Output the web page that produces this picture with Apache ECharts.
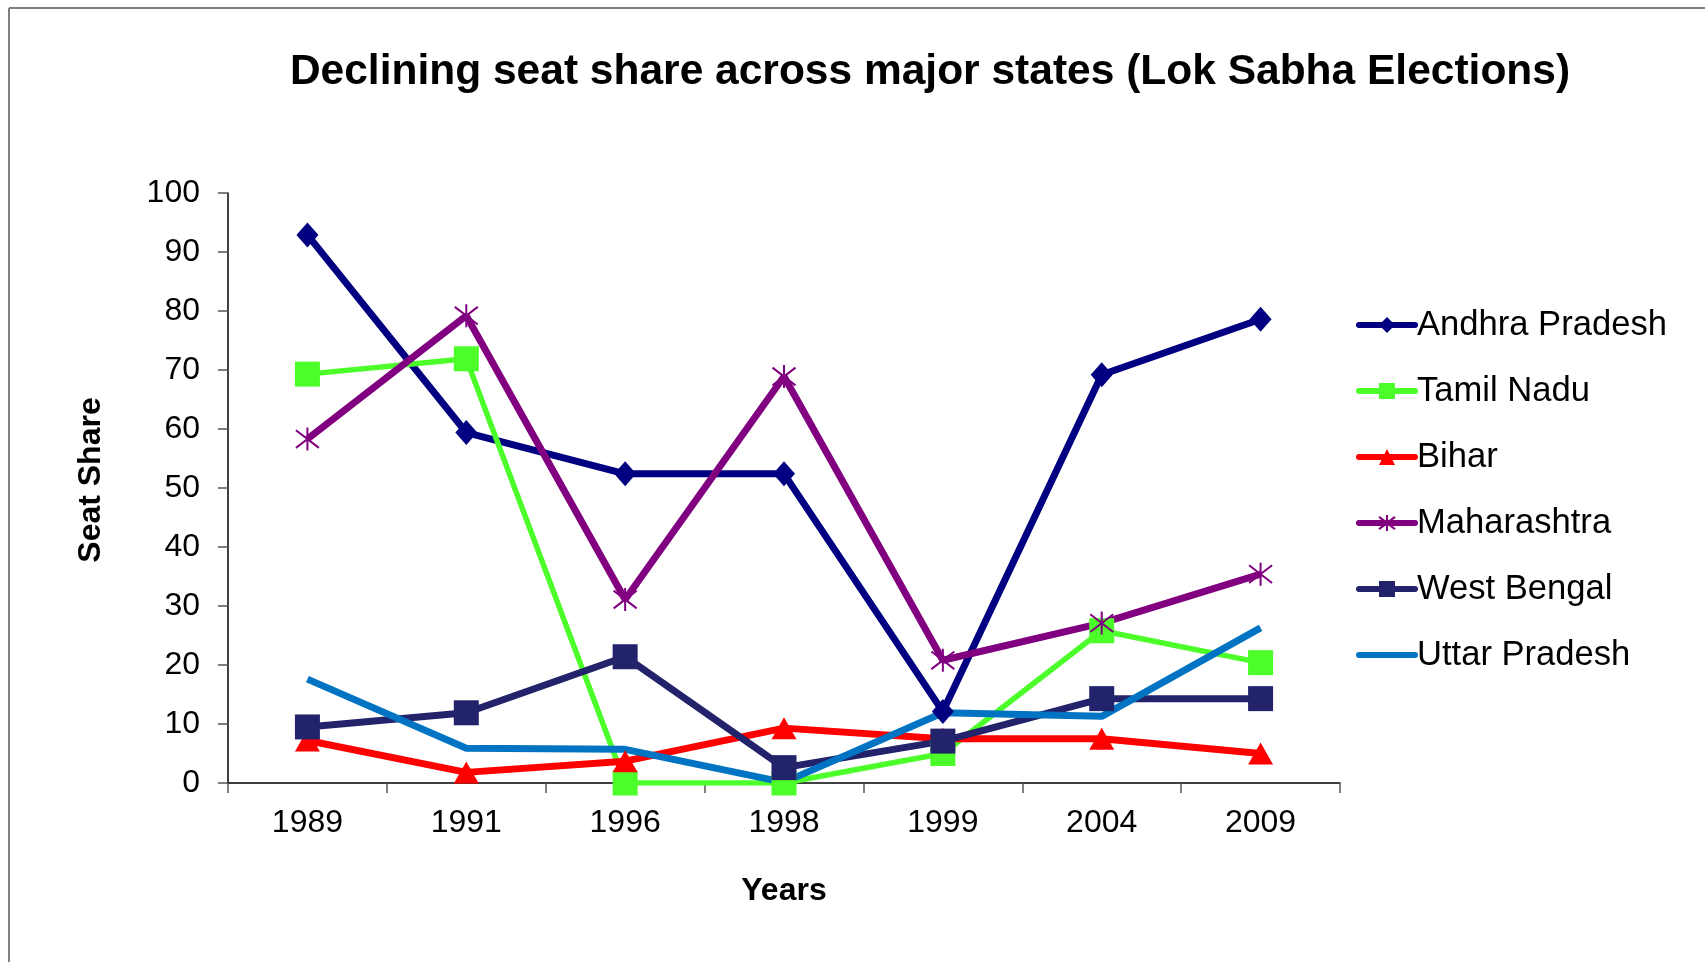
<!DOCTYPE html>
<html>
<head>
<meta charset="utf-8">
<title>Declining seat share across major states</title>
<script src="https://cdn.jsdelivr.net/npm/echarts@6/dist/echarts.min.js"></script>
<style>
  html, body { margin: 0; padding: 0; background: #fff; }
  .charts { width: 1705px; height: 962px; }
</style>
</head>
<body>
<div class="charts"></div>
<script>
'use strict';

const years = ['1989', '1991', '1996', '1998', '1999', '2004', '2009'];

const andhraPradesh = [92.9, 59.4, 52.4, 52.4, 12.1, 69.2, 78.6];
const tamilNadu = [69.3, 71.9, 0, 0, 5.0, 25.8, 20.4];
const bihar = [7.2, 1.8, 3.7, 9.3, 7.5, 7.5, 5.0];
const maharashtra = [58.3, 79.2, 31.1, 68.9, 20.8, 27.1, 35.4];
const westBengal = [9.5, 11.9, 21.4, 2.6, 7.1, 14.3, 14.3];
const uttarPradesh = [17.6, 5.9, 5.7, 0.1, 11.9, 11.3, 26.3];

const yTicks = { min: 0, max: 100, step: 10 };

const FONT = 'Liberation Sans, Arial, sans-serif';
const ASTERISK = 'path://M0,0L10,10M10,0L0,10M5,-1.5L5,11.5';

const myChart = echarts.init(document.querySelector('.charts'));

const makeSeries = (name, data, color, symbol, symbolSize, width) => ({
  name,
  type: 'line',
  data,
  symbol,
  symbolSize,
  showSymbol: symbol !== 'none',
  lineStyle: { color, width },
  itemStyle: symbol === ASTERISK
    ? { color: 'transparent', borderColor: color, borderWidth: 2 }
    : { color, borderColor: color, borderWidth: 0 },
  emphasis: { disabled: true },
  animation: false,
});

const option = {
  backgroundColor: '#ffffff',
  title: {
    text: 'Declining seat share across major states (Lok Sabha Elections)',
    left: 925,
    top: 46,
    textAlign: 'center',
    textStyle: { fontFamily: FONT, fontSize: 42.5, fontWeight: 'bold', color: '#000' },
  },
  legend: {
    orient: 'vertical',
    left: 1351,
    top: 301,
    itemWidth: 56,
    itemHeight: 20,
    itemGap: 28,
    lineStyle: { width: 6, cap: 'round' },
    textStyle: { fontFamily: FONT, fontSize: 34.6, color: '#000', lineHeight: 38, padding: [0, 0, 0, -3] },
    data: [
      'Andhra Pradesh',
      'Tamil Nadu',
      'Bihar',
      'Maharashtra',
      'West Bengal',
      { name: 'Uttar Pradesh', itemStyle: { opacity: 0 } },
    ],
  },
  grid: {
    left: 228,
    right: 365,
    top: 193,
    bottom: 179,
  },
  xAxis: {
    type: 'category',
    data: years,
    boundaryGap: true,
    name: 'Years',
    nameLocation: 'middle',
    nameGap: 92,
    nameTextStyle: { fontFamily: FONT, fontSize: 32, fontWeight: 'bold', color: '#000' },
    axisLine: { lineStyle: { color: '#000', width: 1.5 } },
    axisTick: { show: true, length: 10, inside: false, lineStyle: { color: '#555', width: 1.5 } },
    axisLabel: { fontFamily: FONT, fontSize: 32, color: '#000', margin: 24 },
    splitLine: { show: false },
  },
  yAxis: {
    type: 'value',
    min: yTicks.min,
    max: yTicks.max,
    interval: yTicks.step,
    name: 'Seat Share',
    nameLocation: 'middle',
    nameGap: 121,
    nameRotate: 90,
    nameTextStyle: { fontFamily: FONT, fontSize: 32, fontWeight: 'bold', color: '#000', padding: [0, 0, 0, 16] },
    axisLine: { show: true, lineStyle: { color: '#000', width: 1.5 } },
    axisTick: { show: true, length: 10, inside: false, lineStyle: { color: '#555', width: 1.5 } },
    axisLabel: { fontFamily: FONT, fontSize: 32, color: '#000', margin: 28 },
    splitLine: { show: false },
  },
  graphic: [
    { type: 'line', shape: { x1: 9, y1: 8, x2: 1705, y2: 8 }, style: { stroke: '#808080', lineWidth: 2 } },
    { type: 'line', shape: { x1: 9, y1: 8, x2: 9, y2: 962 }, style: { stroke: '#808080', lineWidth: 2 } },
  ],
  series: [
    makeSeries('Andhra Pradesh', andhraPradesh, '#000080', 'diamond', [22, 25], 7),
    makeSeries('Tamil Nadu', tamilNadu, '#4cff2a', 'rect', 25, 5.5),
    makeSeries('Bihar', bihar, '#ff0000', 'triangle', [25, 22], 7),
    makeSeries('Maharashtra', maharashtra, '#800080', ASTERISK, 23, 7),
    makeSeries('West Bengal', westBengal, '#23236b', 'rect', 25, 7),
    makeSeries('Uttar Pradesh', uttarPradesh, '#0074c2', 'none', 1, 7),
  ],
};

myChart.setOption(option);
</script>
</body>
</html>
